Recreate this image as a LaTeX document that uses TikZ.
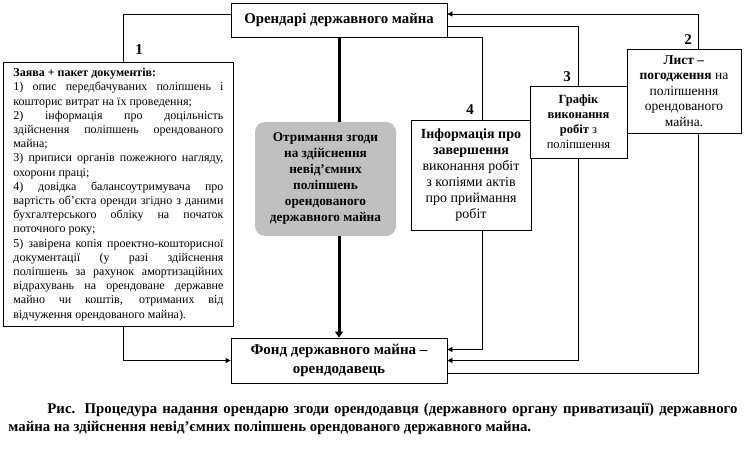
\documentclass[tikz,border=0pt]{standalone}
\usepackage{fontspec}
\setmainfont{Liberation Serif}
\usetikzlibrary{arrows.meta}
\definecolor{consentgray}{HTML}{C0C0C0}

\begin{document}
\begin{tikzpicture}[x=1pt, y=-1pt, line width=0.9pt,
    box/.style={draw, fill=white, inner sep=0pt, align=center},
    tip/.style={-{Triangle[length=5pt,width=5pt]}},
    num/.style={font=\fontsize{15}{15}\selectfont\bfseries}]
\useasboundingbox (0,0) rectangle (745,449);

% Tenants and State Property Fund
\node[box, minimum width=216pt, minimum height=34pt, font=\fontsize{14.8}{16}\selectfont\bfseries] (tenant) at (339,20) {Орендарі державного майна};
\node[box, minimum width=216pt, minimum height=45pt, font=\fontsize{15}{19}\selectfont\bfseries] (fund) at (339,360.5) {Фонд державного майна –\\орендодавець};

% Application with documents
\node[box, anchor=north west, text width=210pt, minimum height=264pt, inner xsep=10pt, align=justify, font=\fontsize{12}{14.2}\selectfont] (docs) at (3,62) {\sloppy
\textbf{Заява + пакет документів:}\par
1) опис передбачуваних поліпшень і\linebreak кошторис витрат на їх проведення;\par
2) інформація про доцільність\linebreak здійснення поліпшень орендованого\linebreak майна;\par
3) приписи органів пожежного нагляду,\linebreak охорони праці;\par
4) довідка балансоутримувача про\linebreak вартість об'єкта оренди згідно з даними\linebreak бухгалтерського обліку на початок\linebreak поточного року;\par
5) завірена копія проектно-кошторисної\linebreak документації (у разі здійснення\linebreak поліпшень за рахунок амортизаційних\linebreak відрахувань на орендоване державне\linebreak майно чи коштів, отриманих від\linebreak відчуження орендованого майна).};

% Consent in the middle
\node[fill=consentgray, rounded corners=10pt, inner sep=0pt, align=center, minimum width=141pt, minimum height=114pt, font=\fontsize{13.3}{16}\selectfont\bfseries] (consent) at (325.5,179) {Отримання згоди\\на здійснення\\невід'ємних\\поліпшень\\орендованого\\державного майна};

% Boxes 4, 3, 2
\node[box, minimum width=120pt, minimum height=110pt, font=\fontsize{14}{16}\selectfont] (info) at (471,175) {\textbf{Інформація про}\\\textbf{завершення}\\виконання робіт\\з копіями актів\\про приймання\\робіт};
\node[box, minimum width=114pt, minimum height=84pt, font=\fontsize{13.5}{15.5}\selectfont] (letter) at (684,91) {\textbf{Лист –}\\\textbf{погодження} на\\поліпшення\\орендованого\\майна.};
\node[box, minimum width=97pt, minimum height=72pt, font=\fontsize{12.5}{15}\selectfont] (schedule) at (578.5,122) {\textbf{Графік}\\\textbf{виконання}\\\textbf{робіт} з\\поліпшення};

% Step numbers
\foreach \pos/\num in {(139,50)/1, (688,40)/2, (567,77)/3, (470,110)/4}
    \node[num] (n\num) at \pos {\num};

% Connectors
\draw ([yshift=6pt]tenant.west) -| ([xshift=5pt]docs.north);
\draw[tip] ([xshift=5pt]docs.south) |- (fund.west);
\draw[line width=3pt] (tenant.south) -- (tenant.south |- consent.north);
\draw[line width=3pt, -{Triangle[length=6pt,width=8pt]}] (tenant.south |- consent.south) -- (fund.north);
\draw (tenant.south east) -| ([xshift=11pt]info.north);
\draw[tip] ([xshift=11pt]info.south) |- ([yshift=11pt]fund.east);
\draw ([yshift=-6pt]tenant.east) -| (schedule.north);
\draw[tip] (schedule.south) |- (fund.east);
\draw[tip] ([xshift=14pt]letter.north) |- ([yshift=6pt]tenant.east);
\draw ([yshift=-13pt]fund.east) -| ([xshift=14pt]letter.south);

% Caption
\node[anchor=north west, text width=729pt, inner sep=0pt, align=justify, font=\fontsize{14.8}{18}\selectfont\bfseries] (caption) at (8,403) {\hspace*{39pt}Рис. Процедура надання орендарю згоди орендодавця (державного органу приватизації) державного\linebreak майна на здійснення невід'ємних поліпшень орендованого державного майна.};
\end{tikzpicture}
\end{document}
